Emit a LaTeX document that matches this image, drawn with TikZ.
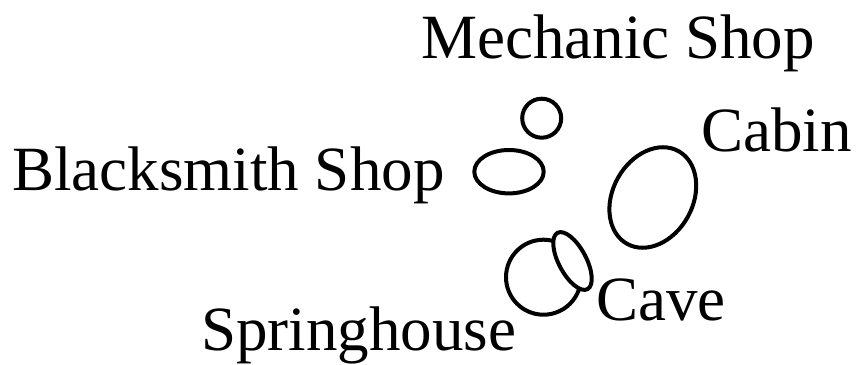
\documentclass[tikz,border=0pt]{standalone}
\usepackage{fontspec}
\setmainfont{Liberation Serif}
\begin{document}
\begin{tikzpicture}[x=1pt,y=1pt,
  shapeline/.style={draw=black, line width=4pt, fill=white},
  lbl/.style={inner sep=0pt, anchor=base west, font=\fontsize{63}{70}\selectfont}]
\useasboundingbox (0,0) rectangle (859,364);
% shapes
\draw[shapeline] (541.7,245.8) circle [radius=19.5];
\draw[shapeline] (509,192.3) ellipse [x radius=34.7, y radius=21.7];
\draw[shapeline, shift={(652.8,166.5)}, rotate=-29] (0,0) ellipse [x radius=40, y radius=53];
\draw[shapeline] (543.5,86.8) circle [radius=37.5];
\draw[shapeline, shift={(572.5,103)}, rotate=28] (0,0) ellipse [x radius=13.7, y radius=31.9];
% labels
\node[lbl] (mech) at (421,305.7) {Mechanic Shop};
\node[lbl] (black) at (12,173.7) {Blacksmith Shop};
\node[lbl] (spring) at (201,13.3) {Springhouse};
\node[lbl] (cabin) at (701,212.3) {Cabin};
\node[lbl] (cave) at (596,43.3) {Cave};
\end{tikzpicture}
\end{document}
